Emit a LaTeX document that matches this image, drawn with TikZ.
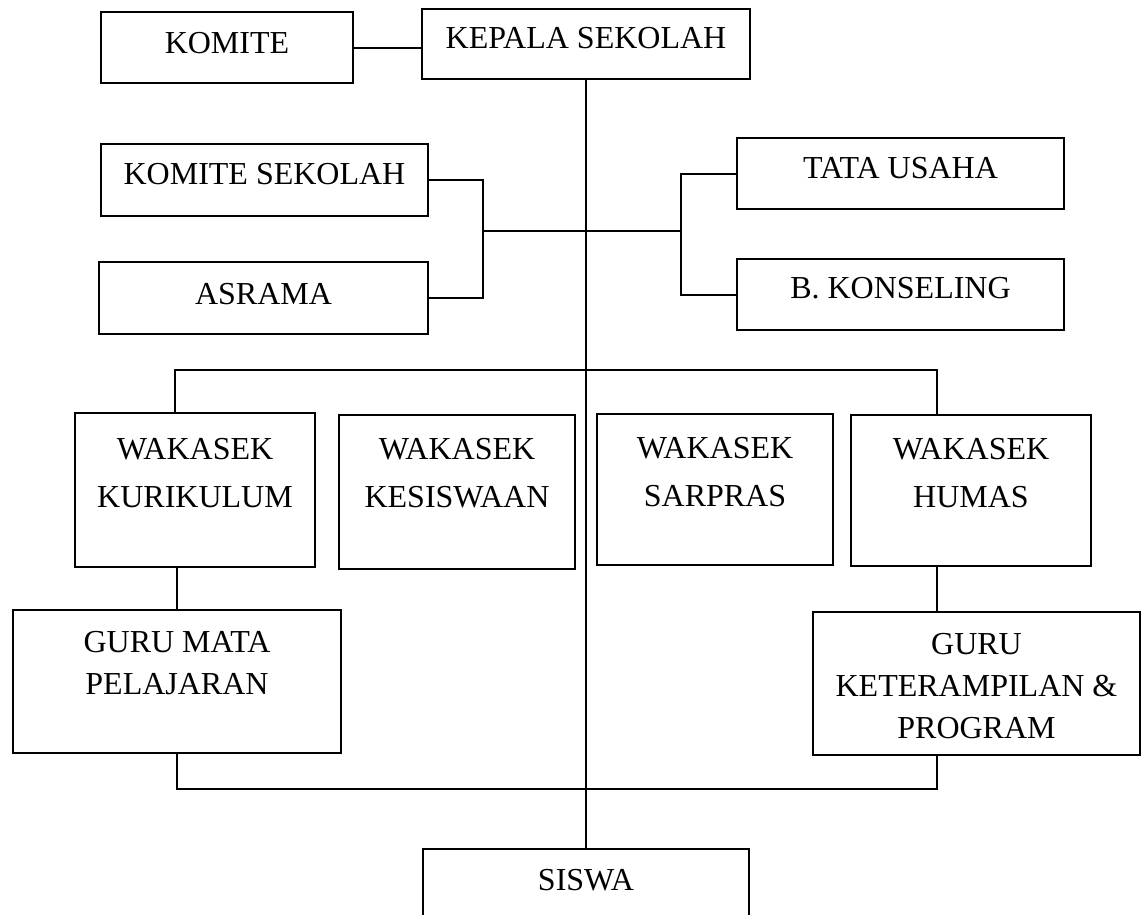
\documentclass[tikz,border=0pt]{standalone}
\usepackage{fontspec}
\setmainfont{Liberation Serif}
\usepackage{tikz}

% text of a box: width, height, top-aligned lines
\newcommand{\isi}[4][41pt]{\parbox[t][#3][t]{#2}{\centering\rule{0pt}{#1}#4}}

\begin{document}
\begin{tikzpicture}[x=1pt, y=-1pt, line width=2pt,
        box/.style = {draw, anchor=north west, inner sep=0pt, font=\fontsize{32pt}{42pt}\selectfont},
        spine/.style = {line width=1.3pt}]
        \useasboundingbox (0,0) rectangle (1146,914);
        \clip (0,0) rectangle (1146,914);

        \node[box] (komite) at (100,11) {\isi{252pt}{71pt}{KOMITE}};
        \node[box] (kepala) at (421,8) {\isi[39pt]{328pt}{70pt}{KEPALA SEKOLAH}};
        \node[box] (komsek) at (100,143) {\isi[40pt]{327pt}{72pt}{KOMITE SEKOLAH}};
        \node[box] (asrama) at (98,261) {\isi[42pt]{329pt}{72pt}{ASRAMA}};
        \node[box] (tu) at (736,137) {\isi[40pt]{327pt}{71pt}{TATA USAHA}};
        \node[box] (bk) at (736,258) {\isi[39pt]{327pt}{71pt}{B. KONSELING}};

        \node[box] (wkur) at (74,412) {\isi[46pt]{240pt}{154pt}{WAKASEK\\[6pt]KURIKULUM}};
        \node[box] (wkes) at (338,414) {\isi[44pt]{236pt}{154pt}{WAKASEK\\[6pt]KESISWAAN}};
        \node[box] (wsar) at (596,413) {\isi[44pt]{236pt}{151pt}{WAKASEK\\[6pt]SARPRAS}};
        \node[box] (whum) at (850,414) {\isi[44pt]{240pt}{151pt}{WAKASEK\\[6pt]HUMAS}};

        \node[box] (gmp) at (12,609) {\isi[42pt]{328pt}{143pt}{GURU MATA\\PELAJARAN}};
        \node[box] (gkp) at (812,611) {\isi[42pt]{327pt}{143pt}{GURU\\KETERAMPILAN \&\\PROGRAM}};
        \node[box] (siswa) at (422,848) {\isi{326pt}{120pt}{SISWA}};

        \coordinate (kiri) at (483,231);
        \coordinate (kanan) at (681,231);
        \coordinate (wl) at (175,370);
        \coordinate (wr) at (937,370);
        \coordinate (br) at (937,789);

        \draw (komite.east) -- (komite.east -| kepala.west);
        \draw[spine] (kepala.south) -- (siswa.north);

        \draw (komsek.east) -| (kiri) |- (asrama.east);
        \draw (tu.west) -| (kanan) |- (bk.west);
        \draw (kiri) -- (kanan);

        \draw (wl |- wkur.north) -- (wl) -- (wr) -- (wr |- whum.north);
        \draw (gmp.north) -- (gmp.north |- wkur.south);
        \draw (wr |- whum.south) -- (wr |- gkp.north);
        \draw (gmp.south) |- (br) -- (br |- gkp.south);
    \end{tikzpicture}
\end{document}
